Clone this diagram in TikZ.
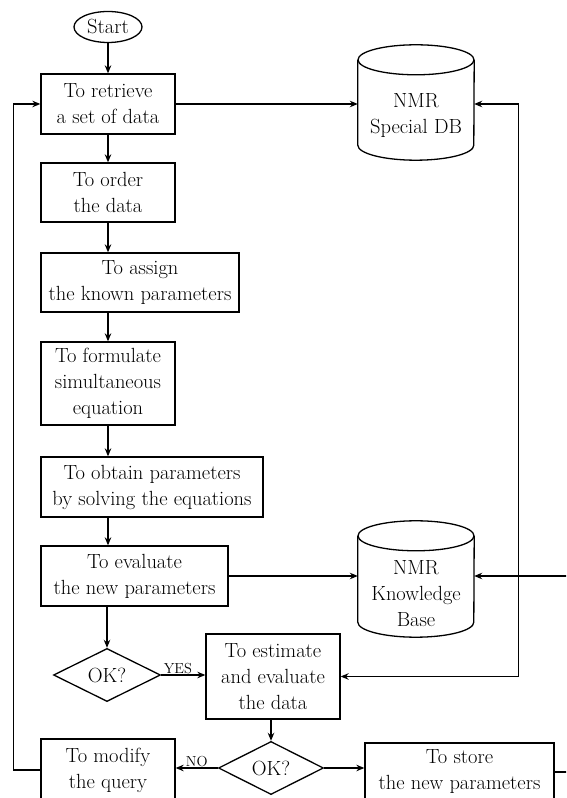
\documentclass[tikz,border=0pt]{standalone}
\usetikzlibrary{shapes.geometric,arrows.meta,calc}

\tikzset{
  every picture/.style={x=1pt,y=1pt},
  txt/.style={font=\fontsize{20.5}{26}\selectfont, align=center},
  proc/.style={txt, draw, line width=1.3pt, inner sep=2pt},
  startnode/.style={txt, draw, ellipse, line width=1.3pt, inner sep=0pt,
    minimum width=68pt, minimum height=31pt},
  decision/.style={txt, draw, diamond, line width=1.3pt, inner sep=0pt,
    minimum width=107pt, minimum height=50pt},
  dbarea/.style={minimum width=116pt, inner sep=0pt},
  flow/.style={line width=1.3pt, -{Stealth[length=8pt,width=6.5pt]}},
  twoway/.style={line width=1.3pt, {Stealth[length=8pt,width=6.5pt]}-{Stealth[length=8pt,width=6.5pt]}},
  lbl/.style={font=\fontsize{14.5}{16}\selectfont, inner sep=1pt},
}

% cylinder outline around a named node area
\newcommand\dbcylinder[1]{%
  \draw[line width=1.3pt]
    ($(#1.north west)+(0,-15)$) -- ($(#1.south west)+(0,15)$)
    arc[start angle=180,end angle=360,x radius=58pt,y radius=15pt]
    -- ($(#1.north east)+(0,-15)$);
  \draw[line width=1.3pt] ($(#1.north)+(0,-15)$) ellipse[x radius=58pt,y radius=15pt];%
}

\begin{document}
\begin{tikzpicture}
  \useasboundingbox (0,0) rectangle (566,798);
  \clip (0,0) rectangle (566,798);

  % main column
  \node[startnode] (start) at (108,771) {Start};
  \node[proc, minimum width=134pt, minimum height=60pt] (b1) at (108,694) {To retrieve\\a set of data};
  \node[proc, minimum width=134pt, minimum height=59pt] (b2) at (108,605.5) {To order\\the data};
  \node[proc, minimum width=198pt, minimum height=59pt] (b3) at (140,515.5) {To assign\\the known parameters};
  \node[proc, minimum width=134pt, minimum height=83pt] (b4) at (108,414.5) {To formulate\\simultaneous\\equation};
  \node[proc, minimum width=222pt, minimum height=60pt] (b5) at (152,311) {To obtain parameters\\by solving the equations};
  \node[proc, minimum width=187pt, minimum height=60pt] (b6) at (134.5,222) {To evaluate\\the new parameters};
  \node[decision] (d1) at (107,123) {OK?};
  \node[proc, minimum width=134pt, minimum height=85pt] (est) at (273,121.5) {To estimate\\and evaluate\\the data};
  \node[decision, minimum width=105pt] (d2) at (271,30) {OK?};
  \node[proc, minimum width=134pt, minimum height=62pt] (mod) at (108,28) {To modify\\the query};
  \node[proc, minimum width=189pt, minimum height=58pt] (store) at (459.5,26) {To store\\the new parameters};

  % databases
  \node[dbarea, minimum height=115pt] (sdb) at (416,695.5) {};
  \dbcylinder{sdb}
  \node[txt] (sdbt) at ($(sdb.center)+(0,-13)$) {NMR\\Special DB};
  \node[dbarea, minimum height=116pt] (kb) at (416,219) {};
  \dbcylinder{kb}
  \node[txt] (kbt) at ($(kb.center)+(0,-15)$) {NMR\\Knowledge\\Base};

  % connectors
  \draw[flow] (start.south) -- (b1.north);
  \draw[flow] (b1.south) -- (b2.north);
  \draw[flow] (b2.south) -- (b2.south |- b3.north);
  \draw[flow] (b2.south |- b3.south) -- (b4.north);
  \draw[flow] (b4.south) -- (b4.south |- b5.north);
  \draw[flow] (b4.south |- b5.south) -- (b4.south |- b6.north);
  \draw[flow] (d1.north |- b6.south) -- (d1.north);
  \draw[flow] (b1.east) -- (b1.east -| sdb.west);
  \draw[flow] (b6.east) -- (b6.east -| kb.west);
  \draw[flow] (d1.east) -- (d1.east -| est.west)
    node[lbl, pos=0.38, anchor=south] (yes) {YES};
  \draw[flow] (d2.north |- est.south) -- (d2.north);
  \draw[flow] (d2.west) -- (d2.west -| mod.east)
    node[lbl, midway, anchor=south] (no) {NO};
  \draw[flow] (d2.east) -- (d2.east -| store.west);
  \draw[flow] (mod.west) -- ++(-27,0) |- (b1.west);
  \draw[twoway] (est.east) -- ++(177.5,0) |- (sdb.east |- b1.east);
  \draw[flow] (store.east) -- ++(25,0) |- (kb.east |- b6.east);
\end{tikzpicture}
\end{document}
